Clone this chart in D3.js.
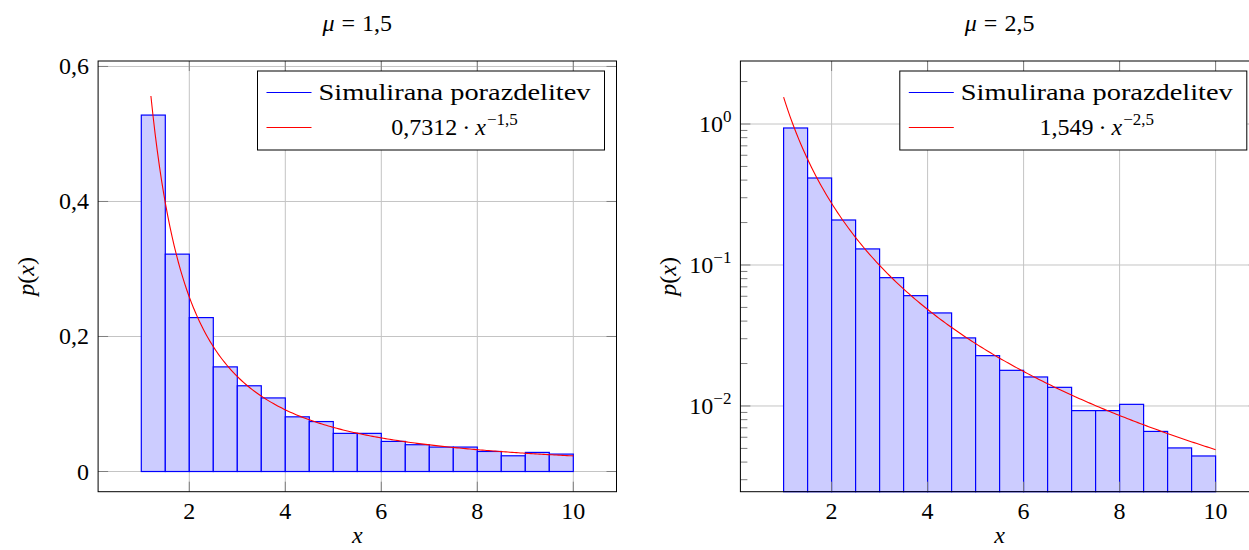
<!DOCTYPE html>
<html><head><meta charset="utf-8">
<script src="https://cdn.jsdelivr.net/npm/d3@7"></script>
<style>
html,body{margin:0;padding:0;background:#fff;}
</style></head>
<body><svg id="c" width="1249" height="550" font-family="'Liberation Serif', 'Times New Roman', 'DejaVu Serif', serif"></svg>
<script>
// ---- data ----
const BIN_STARTS = [1,1.5,2,2.5,3,3.5,4,4.5,5,5.5,6,6.5,7,7.5,8,8.5,9,9.5];
const BIN_WIDTH = 0.5;
const P_MU15 = [0.528,0.322,0.228,0.155,0.127,0.109,0.081,0.074,0.0565,0.0565,0.0446,0.0397,0.0362,0.0362,0.0297,0.0233,0.0283,0.0258];
const P_MU25 = [0.937,0.414,0.2085,0.130,0.0813,0.0606,0.0457,0.0304,0.02275,0.0179,0.01606,0.01356,0.00927,0.00927,0.01027,0.0066,0.00504,0.00442];
const FIT_MU15 = {coef:0.7312, exp:-1.5, from:1.2, to:10, coefLabel:"0,7312", expLabel:"−1,5"};
const FIT_MU25 = {coef:1.549, exp:-2.5, from:1.0, to:10, coefLabel:"1,549", expLabel:"−2,5"};
const X_TICKS = [2,4,6,8,10];
const Y_TICKS_LIN = [0,0.2,0.4,0.6];
const Y_TICK_LABELS_LIN = ["0","0,2","0,4","0,6"];
const Y_TICKS_LOG = [1,0.1,0.01];
const Y_TICK_EXP_LOG = ["0","−1","−2"];
const TITLE_VALUES = ["1,5","2,5"];
const LEGEND_BARS = "Simulirana porazdelitev";

const svg = d3.select("#c");
const FONT = "'Liberation Serif', 'Times New Roman', 'DejaVu Serif', serif";
const FS = 24;
const GRID = "#c4c4c4", TICK = "#7f7f7f";

function txt(sel){ return sel.append("text").attr("font-family",FONT).attr("fill","#000"); }

function panel(o){
  const g = svg.append("g");
  const x = d3.scaleLinear().domain([0.1,10.9]).range([o.left, o.left+518.4]);
  const y = o.log ? d3.scaleLog().domain([0.002466,2.798]).range([491.7,61])
                  : d3.scaleLinear().domain([-0.0299,0.6081]).range([491.7,61]);
  const [x0,x1] = x.range(), [y0,y1] = y.range();
  const clipId = "clip"+o.id;
  g.append("clipPath").attr("id",clipId).append("rect").attr("x",x0).attr("y",y1).attr("width",x1-x0).attr("height",y0-y1);
  // grid
  const grid = g.append("g").attr("stroke",GRID).attr("stroke-width",1);
  X_TICKS.forEach(t=>grid.append("line").attr("x1",x(t)).attr("x2",x(t)).attr("y1",y0).attr("y2",y1));
  o.yTicks.forEach(t=>grid.append("line").attr("y1",y(t)).attr("y2",y(t)).attr("x1",x0).attr("x2",x1));
  // bars
  const base = o.log ? y0 : y(0);
  g.append("g").selectAll("rect").data(BIN_STARTS).join("rect")
    .attr("x",d=>x(d)).attr("width",d=>x(d+BIN_WIDTH)-x(d))
    .attr("y",(d,i)=>y(o.vals[i])).attr("height",(d,i)=>base-y(o.vals[i]))
    .attr("fill","#ccccff").attr("stroke","#0000ff").attr("stroke-width",1.2);
  // curve
  const f = o.fit;
  const xs = d3.range(0,201).map(i=>f.from+(f.to-f.from)*i/200);
  g.append("path").attr("clip-path",`url(#${clipId})`)
    .attr("d",d3.line().x(d=>x(d)).y(d=>y(f.coef*Math.pow(d,f.exp)))(xs))
    .attr("fill","none").attr("stroke","#ff0000").attr("stroke-width",1.1);
  // ticks
  const tk = g.append("g").attr("stroke",TICK).attr("stroke-width",1);
  const ML=10, mL=7;
  X_TICKS.forEach(t=>{
    tk.append("line").attr("x1",x(t)).attr("x2",x(t)).attr("y1",y0).attr("y2",y0-ML);
    tk.append("line").attr("x1",x(t)).attr("x2",x(t)).attr("y1",y1).attr("y2",y1+ML);
  });
  o.yTicks.forEach(t=>{
    tk.append("line").attr("y1",y(t)).attr("y2",y(t)).attr("x1",x0).attr("x2",x0+ML);
    tk.append("line").attr("y1",y(t)).attr("y2",y(t)).attr("x1",x1).attr("x2",x1-ML);
  });
  if(o.log){
    const minors=[];
    [0.001,0.01,0.1,1].forEach(dec=>{for(let m=2;m<=9;m++){const v=dec*m; if(v>=y.domain()[0]&&v<=y.domain()[1]) minors.push(v);}});
    minors.forEach(t=>{
      tk.append("line").attr("y1",y(t)).attr("y2",y(t)).attr("x1",x0).attr("x2",x0+mL);
      tk.append("line").attr("y1",y(t)).attr("y2",y(t)).attr("x1",x1).attr("x2",x1-mL);
    });
  }
  // frame
  g.append("rect").attr("x",x0).attr("y",y1).attr("width",x1-x0).attr("height",y0-y1)
    .attr("fill","none").attr("stroke","#000").attr("stroke-width",1);
  // tick labels
  X_TICKS.forEach(t=>txt(g).attr("x",x(t)).attr("y",519).attr("text-anchor","middle").attr("font-size",FS).text(t));
  o.yTicks.forEach((t,i)=>{
    const tx = txt(g).attr("x",x0-9).attr("y",y(t)+8).attr("text-anchor","end").attr("font-size",FS);
    if(o.log){
      tx.append("tspan").text("10");
      tx.append("tspan").attr("dy",-10).attr("font-size",17).text(Y_TICK_EXP_LOG[i]);
    } else tx.text(Y_TICK_LABELS_LIN[i]);
  });
  // axis labels
  txt(g).attr("x",(x0+x1)/2).attr("y",543).attr("text-anchor","middle").attr("font-size",FS).attr("font-style","italic").text("x");
  const yl = txt(g).attr("transform",`translate(${x0-64},${(y0+y1)/2}) rotate(-90)`)
    .attr("text-anchor","middle").attr("font-size",FS);
  yl.append("tspan").attr("font-style","italic").text("p");
  yl.append("tspan").text("(");
  yl.append("tspan").attr("font-style","italic").text("x");
  yl.append("tspan").text(")");
  // title
  const tt = txt(g).attr("x",(x0+x1)/2).attr("y",31).attr("text-anchor","middle").attr("font-size",FS);
  tt.append("tspan").attr("font-style","italic").text("μ");
  tt.append("tspan").attr("dx",7).text("=");
  tt.append("tspan").attr("dx",7).text(o.titleValue);
  // legend
  const lx1 = x1-12, lx0 = lx1-347, ly0 = 71, ly1 = 150;
  const lg = g.append("g");
  lg.append("rect").attr("x",lx0).attr("y",ly0).attr("width",lx1-lx0).attr("height",ly1-ly0)
    .attr("fill","#fff").attr("stroke","#000").attr("stroke-width",1);
  lg.append("line").attr("x1",lx0+9).attr("x2",lx0+54).attr("y1",92.5).attr("y2",92.5).attr("stroke","#0000ff").attr("stroke-width",1.2);
  lg.append("line").attr("x1",lx0+9).attr("x2",lx0+54).attr("y1",127.5).attr("y2",127.5).attr("stroke","#ff0000").attr("stroke-width",1.1);
  const tx0 = lx0+61, tw = 272;
  txt(lg).attr("x",tx0).attr("y",100).attr("font-size",FS)
    .attr("textLength",tw).attr("lengthAdjust","spacingAndGlyphs").text(LEGEND_BARS);
  const t2 = txt(lg).attr("x",tx0+tw/2).attr("y",135).attr("text-anchor","middle").attr("font-size",FS);
  t2.append("tspan").text(f.coefLabel);
  t2.append("tspan").attr("dx",5).text("·");
  t2.append("tspan").attr("dx",5).attr("font-style","italic").text("x");
  t2.append("tspan").attr("dx",1).attr("dy",-10).attr("font-size",17).text(f.expLabel);
}

panel({id:1,left:98.1,log:false,vals:P_MU15,fit:FIT_MU15,yTicks:Y_TICKS_LIN,titleValue:TITLE_VALUES[0]});
panel({id:2,left:740.4,log:true,vals:P_MU25,fit:FIT_MU25,yTicks:Y_TICKS_LOG,titleValue:TITLE_VALUES[1]});
</script></body></html>
